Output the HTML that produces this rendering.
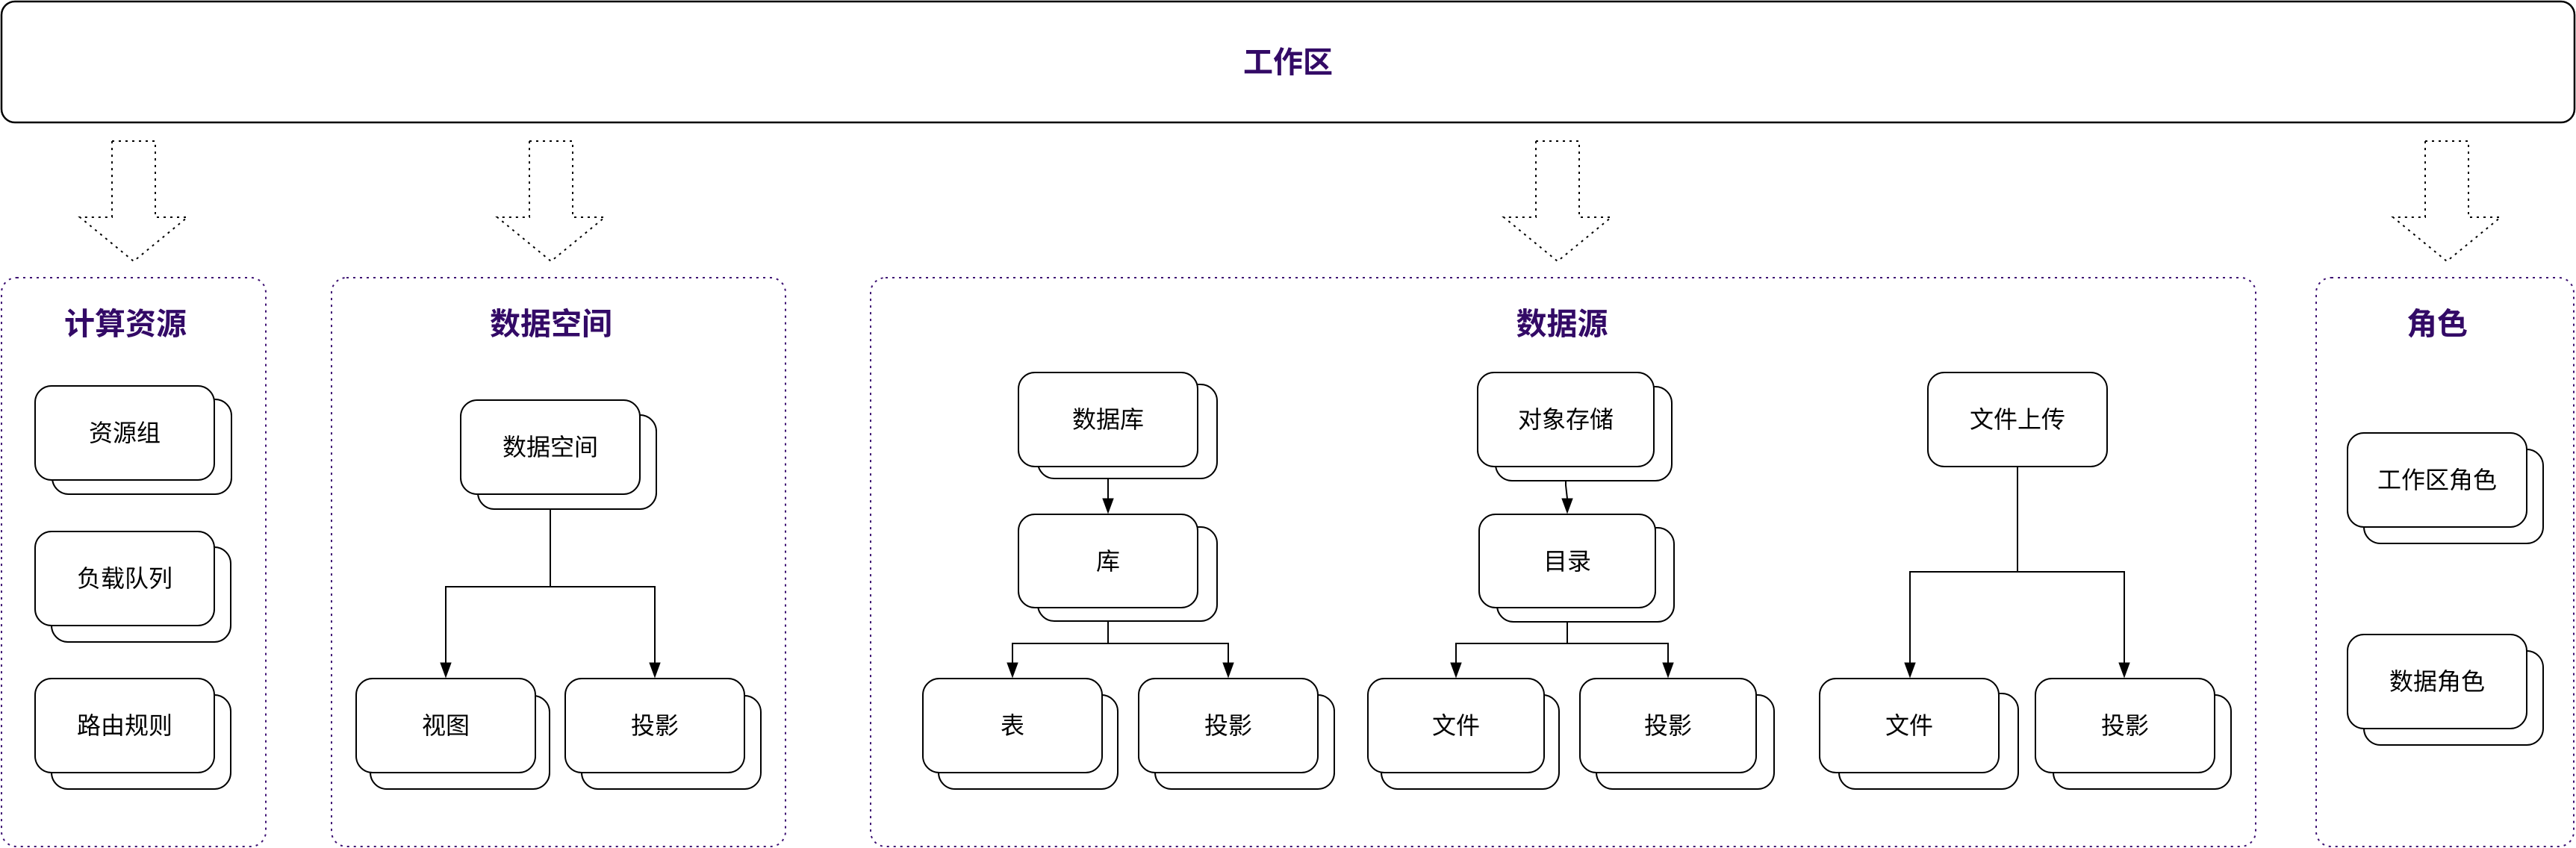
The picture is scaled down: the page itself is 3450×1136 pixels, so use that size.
<!DOCTYPE html>
<html>
<head>
<meta charset="utf-8">
<style>
  html,body{margin:0;padding:0;background:#fff;}
  body{width:3450px;height:1136px;overflow:hidden;}
  svg{display:block;}
  .lbl{font-family:"Liberation Sans","Noto Sans CJK SC",sans-serif;font-size:32px;fill:#000;}
  .ttl{font-family:"Liberation Sans","Noto Sans CJK SC",sans-serif;font-size:41px;font-weight:bold;fill:#330a66;}
</style>
</head>
<body>
<svg width="3450" height="1136" viewBox="0 0 3450 1136" xmlns="http://www.w3.org/2000/svg">
  <defs>
    <marker id="ah" markerWidth="14" markerHeight="19" refX="7" refY="19" orient="auto" markerUnits="userSpaceOnUse"></marker>
  </defs>
  <rect x="0" y="0" width="3450" height="1136" fill="#fff"/>

  <!-- Top workspace box -->
  <rect x="2" y="2" width="3446" height="162" rx="18" ry="18" fill="#fff" stroke="#000" stroke-width="2.5"/>
  <text class="ttl" x="1725" y="84" text-anchor="middle" dominant-baseline="central" style="font-size:40px">工作区</text>

  <!-- Block arrows (dotted) -->
  <g fill="none" stroke="#000" stroke-width="2" stroke-dasharray="3 6">
    <polygon points="150,189 208,189 208,291 251,291 179,350 107,291 150,291"/>
    <polygon points="709,189 767,189 767,291 810,291 738,350 666,291 709,291"/>
    <polygon points="2057,189 2115,189 2115,291 2158,291 2086,350 2014,291 2057,291"/>
    <polygon points="3248,189 3306,189 3306,291 3349,291 3277,350 3205,291 3248,291"/>
  </g>

  <!-- Panels (purple dotted) -->
  <g fill="none" stroke="#3d1172" stroke-width="2" stroke-dasharray="3 6">
    <rect x="2" y="372" width="354" height="762" rx="20" ry="20"/>
    <rect x="444" y="372" width="608" height="762" rx="20" ry="20"/>
    <rect x="1166" y="372" width="1855" height="762" rx="20" ry="20"/>
    <rect x="3102" y="372" width="345" height="762" rx="20" ry="20"/>
  </g>

  <!-- Panel titles -->
  <text class="ttl" x="168" y="434" text-anchor="middle" dominant-baseline="central">计算资源</text>
  <text class="ttl" x="738" y="434" text-anchor="middle" dominant-baseline="central">数据空间</text>
  <text class="ttl" x="2092" y="434" text-anchor="middle" dominant-baseline="central">数据源</text>
  <text class="ttl" x="3264" y="434" text-anchor="middle" dominant-baseline="central">角色</text>

  <!-- Connectors -->
  <g fill="none" stroke="#000" stroke-width="2">
    <!-- 数据空间 -->
    <polyline points="737,662 737,786"/>
    <polyline points="597,888 597,786 877,786 877,888"/>
    <!-- 数据库 -> 库 -->
    <polyline points="1484,625 1484,668"/>
    <polyline points="1484,814 1484,862"/>
    <polyline points="1356,888 1356,862 1645,862 1645,888"/>
    <!-- 对象存储 -> 目录 -->
    <polyline points="2097,625 2097,650 2099,668"/>
    <polyline points="2099,814 2099,862"/>
    <polyline points="1950,888 1950,862 2234,862 2234,888"/>
    <!-- 文件上传 -->
    <polyline points="2702,625 2702,766"/>
    <polyline points="2558,888 2558,766 2845,766 2845,888"/>
  </g>
  <g fill="#000" stroke="#000" stroke-width="1">
    <polygon points="590,888 604,888 597,907"/>
    <polygon points="870,888 884,888 877,907"/>
    <polygon points="1477,668 1491,668 1484,687"/>
    <polygon points="1349,888 1363,888 1356,907"/>
    <polygon points="1638,888 1652,888 1645,907"/>
    <polygon points="2092,668 2106,668 2099,687"/>
    <polygon points="1943,888 1957,888 1950,907"/>
    <polygon points="2227,888 2241,888 2234,907"/>
    <polygon points="2551,888 2565,888 2558,907"/>
    <polygon points="2838,888 2852,888 2845,907"/>
  </g>

  <!-- Nodes: back cards -->
  <g fill="#fff" stroke="#000" stroke-width="2">
    <rect x="70" y="535" width="240" height="127" rx="22" ry="22"/>
    <rect x="69" y="733" width="240" height="127" rx="22" ry="22"/>
    <rect x="69" y="931" width="240" height="126" rx="22" ry="22"/>

    <rect x="640" y="556" width="239" height="126" rx="22" ry="22"/>
    <rect x="496" y="932" width="240" height="125" rx="22" ry="22"/>
    <rect x="779" y="932" width="240" height="125" rx="22" ry="22"/>

    <rect x="1390" y="515" width="240" height="126" rx="22" ry="22"/>
    <rect x="1390" y="706" width="240" height="126" rx="22" ry="22"/>
    <rect x="1257" y="931" width="240" height="126" rx="22" ry="22"/>
    <rect x="1547" y="931" width="240" height="126" rx="22" ry="22"/>

    <rect x="2003" y="518" width="236" height="126" rx="22" ry="22"/>
    <rect x="2005" y="707" width="237" height="126" rx="22" ry="22"/>
    <rect x="1850" y="931" width="238" height="126" rx="22" ry="22"/>
    <rect x="2138" y="931" width="238" height="126" rx="22" ry="22"/>

    <rect x="2463" y="929" width="240" height="128" rx="22" ry="22"/>
    <rect x="2750" y="931" width="238" height="126" rx="22" ry="22"/>

    <rect x="3166" y="602" width="240" height="126" rx="22" ry="22"/>
    <rect x="3166" y="872" width="240" height="126" rx="22" ry="22"/>
  </g>

  <!-- Nodes: front cards -->
  <g fill="#fff" stroke="#000" stroke-width="2">
    <rect x="47" y="517" width="240" height="126" rx="22" ry="22"/>
    <rect x="47" y="712" width="240" height="126" rx="22" ry="22"/>
    <rect x="47" y="909" width="240" height="126" rx="22" ry="22"/>

    <rect x="617" y="536" width="240" height="126" rx="22" ry="22"/>
    <rect x="477" y="909" width="240" height="126" rx="22" ry="22"/>
    <rect x="757" y="909" width="240" height="126" rx="22" ry="22"/>

    <rect x="1364" y="499" width="240" height="126" rx="22" ry="22"/>
    <rect x="1364" y="689" width="240" height="125" rx="22" ry="22"/>
    <rect x="1236" y="909" width="240" height="126" rx="22" ry="22"/>
    <rect x="1525" y="909" width="240" height="126" rx="22" ry="22"/>

    <rect x="1979" y="499" width="236" height="126" rx="22" ry="22"/>
    <rect x="1981" y="689" width="236" height="125" rx="22" ry="22"/>
    <rect x="1832" y="909" width="236" height="126" rx="22" ry="22"/>
    <rect x="2116" y="909" width="236" height="126" rx="22" ry="22"/>

    <rect x="2582" y="499" width="240" height="126" rx="22" ry="22"/>
    <rect x="2437" y="909" width="240" height="126" rx="22" ry="22"/>
    <rect x="2726" y="909" width="240" height="126" rx="22" ry="22"/>

    <rect x="3144" y="580" width="240" height="126" rx="22" ry="22"/>
    <rect x="3144" y="850" width="240" height="126" rx="22" ry="22"/>
  </g>

  <!-- Node labels -->
  <g text-anchor="middle" dominant-baseline="central">
    <text class="lbl" x="167" y="580">资源组</text>
    <text class="lbl" x="167" y="775">负载队列</text>
    <text class="lbl" x="167" y="972">路由规则</text>

    <text class="lbl" x="737" y="599">数据空间</text>
    <text class="lbl" x="597" y="972">视图</text>
    <text class="lbl" x="877" y="972">投影</text>

    <text class="lbl" x="1484" y="562">数据库</text>
    <text class="lbl" x="1484" y="752">库</text>
    <text class="lbl" x="1356" y="972">表</text>
    <text class="lbl" x="1645" y="972">投影</text>

    <text class="lbl" x="2097" y="562">对象存储</text>
    <text class="lbl" x="2099" y="752">目录</text>
    <text class="lbl" x="1950" y="972">文件</text>
    <text class="lbl" x="2234" y="972">投影</text>

    <text class="lbl" x="2702" y="562">文件上传</text>
    <text class="lbl" x="2557" y="972">文件</text>
    <text class="lbl" x="2846" y="972">投影</text>

    <text class="lbl" x="3264" y="643">工作区角色</text>
    <text class="lbl" x="3264" y="913">数据角色</text>
  </g>
</svg>
</body>
</html>
